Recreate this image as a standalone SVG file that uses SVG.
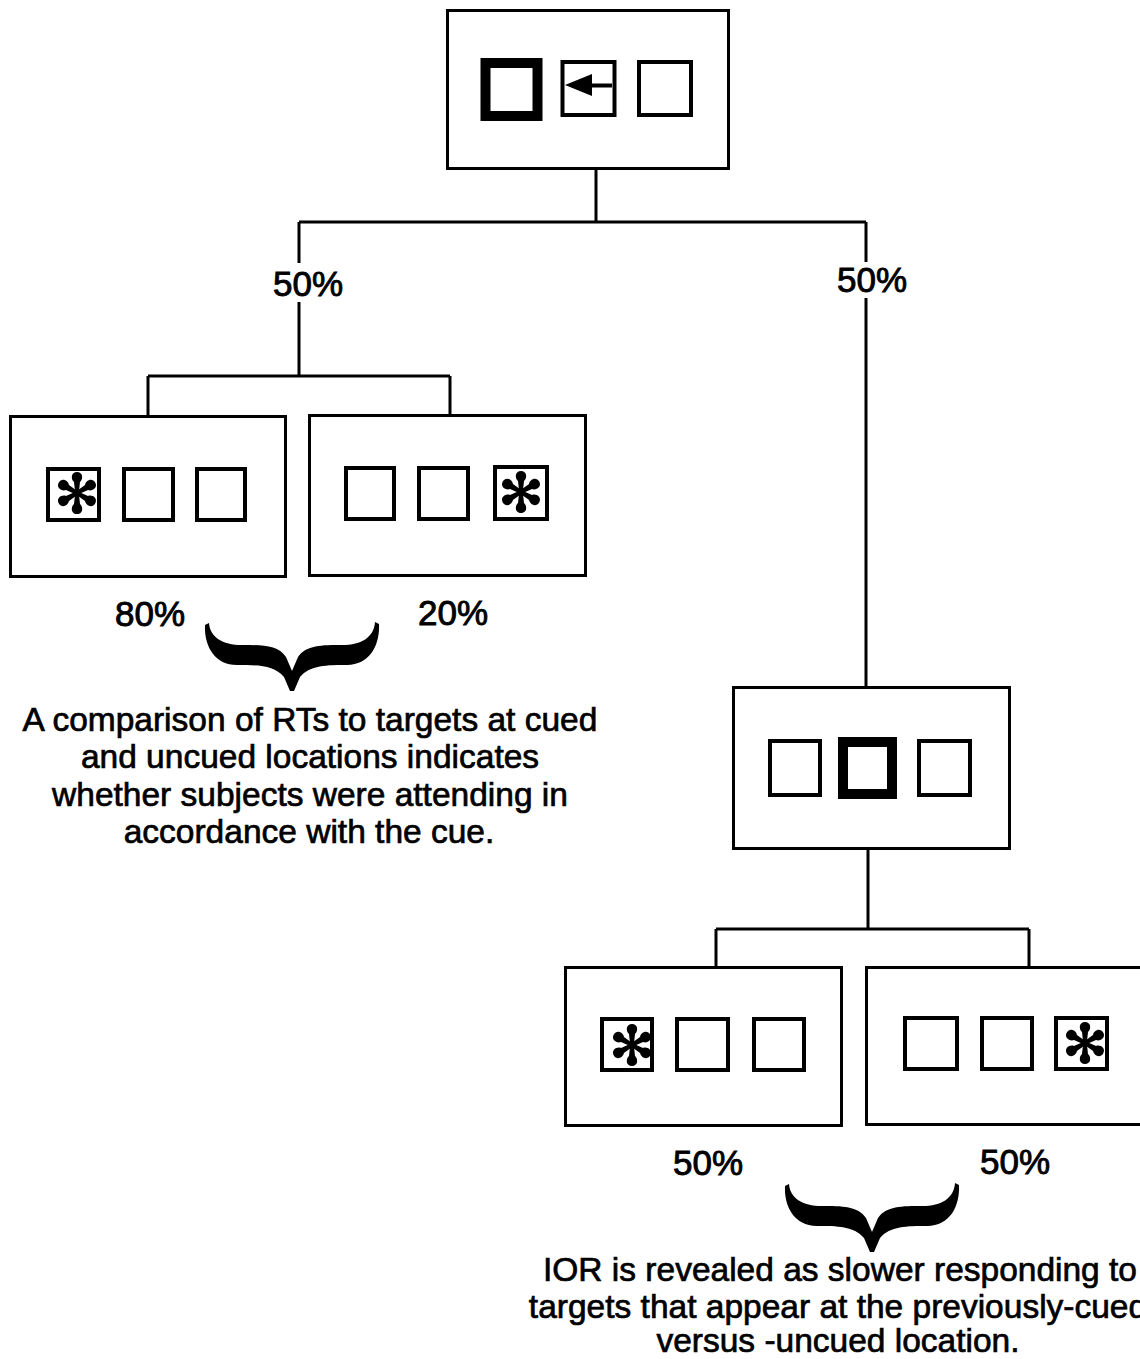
<svg xmlns="http://www.w3.org/2000/svg" xmlns:xlink="http://www.w3.org/1999/xlink" width="1140" height="1359" viewBox="0 0 1140 1359">
  <style>
    .frame { fill: #fff; stroke: #000; stroke-width: 3; }
    .loc { fill: #fff; stroke: #000; stroke-width: 4; }
    .cue { fill: #fff; stroke: #000; stroke-width: 10; }
    .wire { fill: none; stroke: #000; stroke-width: 3; }
    .lbl { font-family: "Liberation Sans", Arial, sans-serif; font-size: 35px; fill: #000; stroke: #000; stroke-width: 0.9; text-anchor: middle; }
    .note { font-family: "Liberation Sans", Arial, sans-serif; font-size: 33.5px; fill: #000; stroke: #000; stroke-width: 0.7; text-anchor: middle; }
  </style>
  <defs>
    <!-- one lobe of the target asterisk, pointing up from its centre -->
    <path id="lobe" d="M-1.8,0 L-3,-11 C-6.5,-14 -6,-21 0,-21 C6,-21 6.5,-14 3,-11 L1.8,0 Z"/>
    <g id="star">
      <use xlink:href="#lobe"/>
      <use xlink:href="#lobe" transform="rotate(60)"/>
      <use xlink:href="#lobe" transform="rotate(120)"/>
      <use xlink:href="#lobe" transform="rotate(180)"/>
      <use xlink:href="#lobe" transform="rotate(240)"/>
      <use xlink:href="#lobe" transform="rotate(300)"/>
      <circle r="4"/>
    </g>
    <!-- downward curly brace, tips at y=0, point at y=68 -->
    <path id="brace" d="M-83,0 C-82,14 -70,22 -50,22 C-30,22 -14,22 -6,34 L0,48 L6,34 C14,22 30,22 50,22 C70,22 82,14 83,-1 L87,1 C88,22 78,42 55,42 C35,42 18,42 8,54 L2,68 L-2,68 L-8,54 C-18,42 -35,42 -55,42 C-78,42 -88,22 -87,2 Z"/>
  </defs>

  <!-- connectors -->
  <g id="connectors">
    <path class="wire" d="M596,169 V222 M299,222 H866 M299,222 V263 M299,302 V376 M866,222 V262 M866,298 V686"/>
    <path class="wire" d="M148,376 H450 M148,376 V416 M450,376 V416"/>
    <path class="wire" d="M868,849 V929 M716,929 H1029 M716,929 V967 M1029,929 V967"/>
  </g>

  <!-- cue display: left location brightened, central arrow -->
  <g id="cue-display">
    <rect class="frame" x="447.5" y="10.5" width="281" height="158"/>
    <rect class="cue" x="485.5" y="63" width="52" height="53"/>
    <rect class="loc" x="562.5" y="62" width="52" height="53"/>
    <path d="M612,83.5 H592 V74 L565,85 L592,96 V87.5 H612 Z"/>
    <rect class="loc" x="639" y="62" width="52" height="53"/>
  </g>

  <text class="lbl" x="308" y="296">50%</text>
  <text class="lbl" x="872" y="292">50%</text>

  <!-- target at cued location -->
  <g id="cued-target">
    <rect class="frame" x="10.5" y="416.5" width="275" height="160"/>
    <rect class="loc" x="48" y="469" width="51" height="51"/>
    <use xlink:href="#star" transform="translate(77,493)"/>
    <rect class="loc" x="124" y="469" width="49" height="51"/>
    <rect class="loc" x="197" y="469" width="48" height="51"/>
  </g>

  <!-- target at uncued location -->
  <g id="uncued-target">
    <rect class="frame" x="309.5" y="415.5" width="276" height="160"/>
    <rect class="loc" x="346" y="468" width="48" height="51"/>
    <rect class="loc" x="419" y="468" width="49" height="51"/>
    <rect class="loc" x="495" y="467" width="52" height="52"/>
    <use xlink:href="#star" transform="translate(521,492)"/>
  </g>

  <text class="lbl" x="150" y="626">80%</text>
  <text class="lbl" x="453" y="625">20%</text>

  <g id="brace-attention">
    <use xlink:href="#brace" transform="translate(292,623)"/>
    <text class="note" x="310" y="731">A comparison of RTs to targets at cued</text>
    <text class="note" x="310" y="768">and uncued locations indicates</text>
    <text class="note" x="310" y="806">whether subjects were attending in</text>
    <text class="note" x="309" y="843">accordance with the cue.</text>
  </g>

  <!-- recue display: centre location brightened -->
  <g id="recue-display">
    <rect class="frame" x="733.5" y="687.5" width="276" height="161"/>
    <rect class="loc" x="770" y="741" width="50" height="54"/>
    <rect class="cue" x="843" y="742" width="49" height="52"/>
    <rect class="loc" x="919" y="741" width="51" height="54"/>
  </g>

  <!-- target at previously-cued location -->
  <g id="ior-cued">
    <rect class="frame" x="565.5" y="967.5" width="276" height="158"/>
    <rect class="loc" x="602" y="1019" width="50" height="51"/>
    <use xlink:href="#star" transform="translate(632,1045)"/>
    <rect class="loc" x="677" y="1019" width="51" height="51"/>
    <rect class="loc" x="754" y="1019" width="50" height="51"/>
  </g>

  <!-- target at previously-uncued location -->
  <g id="ior-uncued">
    <rect class="frame" x="866.5" y="967.5" width="290" height="157"/>
    <rect class="loc" x="905" y="1018" width="52" height="51"/>
    <rect class="loc" x="982" y="1018" width="50" height="51"/>
    <rect class="loc" x="1056" y="1018" width="51" height="51"/>
    <use xlink:href="#star" transform="translate(1085,1043)"/>
  </g>

  <text class="lbl" x="708" y="1175">50%</text>
  <text class="lbl" x="1015" y="1174">50%</text>

  <g id="brace-ior">
    <use xlink:href="#brace" transform="translate(872,1184)"/>
    <text class="note" x="840" y="1281">IOR is revealed as slower responding to</text>
    <text class="note" x="838" y="1318">targets that appear at the previously-cued</text>
    <text class="note" x="838" y="1352">versus -uncued location.</text>
  </g>
</svg>
